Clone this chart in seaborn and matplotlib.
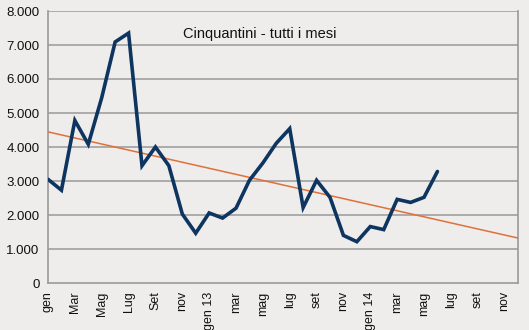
import numpy as np
import pandas as pd
import matplotlib
matplotlib.use("Agg")
import matplotlib.pyplot as plt
import seaborn as sns

# monthly values, gen 2012 .. giu 2014
values = [3050, 2730, 4780, 4080, 5450, 7090, 7350, 3450, 4000, 3450, 2030, 1465,
          2060, 1910, 2200, 3020, 3530, 4110, 4540, 2220, 3020, 2520, 1400, 1215,
          1660, 1570, 2460, 2370, 2520, 3280]
n_months = 36  # gen 2012 .. dic 2014
tick_labels = ["gen", "Mar", "Mag", "Lug", "Set", "nov",
               "gen 13", "mar", "mag", "lug", "set", "nov",
               "gen 14", "mar", "mag", "lug", "set", "nov"]
y_ticks = [0, 1000, 2000, 3000, 4000, 5000, 6000, 7000, 8000]
title = "Cinquantini - tutti i mesi"

df = pd.DataFrame({"mese": np.arange(len(values)), "valore": values})
slope, intercept = np.polyfit(df["mese"], df["valore"], 1)
trend_x = np.array([0, n_months - 1])
trend = pd.DataFrame({"mese": trend_x, "valore": intercept + slope * trend_x})

sns.set_theme(style="white")
plt.rcParams["font.family"] = ["Liberation Sans", "DejaVu Sans"]
bg = "#EEEDEB"
fig = plt.figure(figsize=(5.29, 3.30), dpi=100, facecolor=bg)
ax = fig.add_axes([48 / 529, 47 / 330, 470 / 529, 272 / 330])
ax.set_facecolor(bg)

sns.lineplot(data=trend, x="mese", y="valore", ax=ax, color="#E0703A", lw=1.1, zorder=3)
sns.lineplot(data=df, x="mese", y="valore", ax=ax, color="#0D3560", lw=2.6, zorder=4,
             solid_joinstyle="miter")

ax.set_xlim(0, n_months - 1)
ax.set_ylim(0, 8000)
ax.set_yticks(y_ticks)
ax.set_yticklabels([f"{v:,}".replace(",", ".") for v in y_ticks], fontsize=9.5)
ax.set_xticks(np.arange(0, n_months))
ax.set_xticklabels([tick_labels[i // 2] if i % 2 == 0 else "" for i in range(n_months)],
                   rotation=90, fontsize=9, va="top", ha="center")
ax.tick_params(axis="both", which="major", length=4, width=1, color="#999999",
               direction="out", pad=2, labelcolor="#111111")
ax.set_xlabel("")
ax.set_ylabel("")
for yv in y_ticks[1:]:
    ax.axhline(yv, color="#999999", lw=1.1, zorder=1)
for s in ["left", "right", "bottom"]:
    ax.spines[s].set_color("#999999")
    ax.spines[s].set_linewidth(1.2)
ax.spines["top"].set_visible(False)
ax.text(0.45, 0.915, title, transform=ax.transAxes, ha="center", va="center",
        fontsize=10.5, color="#111111")

fig.savefig("out.png", dpi=100, facecolor=bg)
